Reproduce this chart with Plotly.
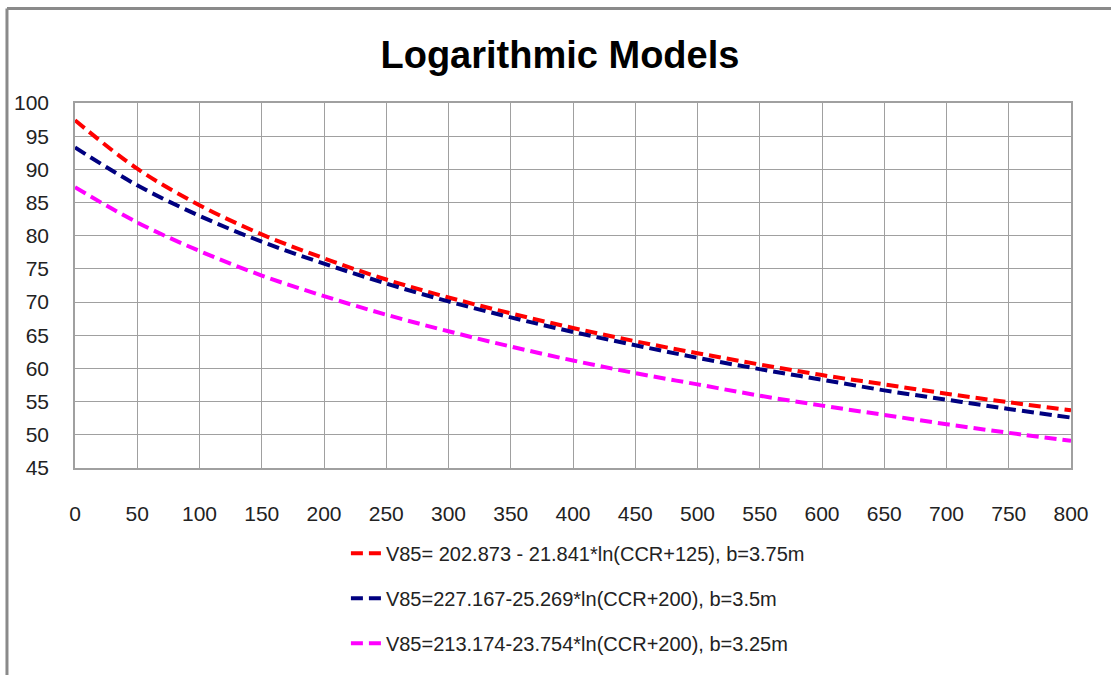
import plotly.graph_objects as go

# CCR values (x axis)
ccr = [0, 50, 100, 150, 200, 250, 300, 350, 400, 450, 500, 550, 600, 650, 700, 750, 800]

# V85 values
v85_b375 = [97.4, 90.1, 84.6, 80.2, 76.6, 73.4, 70.7, 68.3, 66.1, 64.1, 62.3, 60.6, 59.0, 57.6, 56.2, 54.9, 53.7]
v85_b350 = [93.3, 87.6, 83.0, 79.1, 75.8, 72.8, 70.1, 67.7, 65.5, 63.5, 61.6, 59.9, 58.3, 56.7, 55.3, 53.9, 52.6]
v85_b325 = [87.3, 82.0, 77.7, 74.0, 70.9, 68.1, 65.6, 63.3, 61.2, 59.3, 57.6, 55.9, 54.4, 53.0, 51.6, 50.3, 49.1]

names = [
    "V85= 202.873 - 21.841*ln(CCR+125), b=3.75m",
    "V85=227.167-25.269*ln(CCR+200), b=3.5m",
    "V85=213.174-23.754*ln(CCR+200), b=3.25m",
]
colors = ["#FF0000", "#000080", "#FF00FF"]
series = [v85_b375, v85_b350, v85_b325]

FONT = "'Liberation Sans', Arial, sans-serif"

fig = go.Figure()
for i, (nm, ys, c) in enumerate(zip(names, series, colors)):
    fig.add_trace(go.Scatter(
        x=ccr, y=ys, name=nm, mode="lines",
        line=dict(color=c, width=4, dash="12px,6px", shape="spline"),
        legendgroup=f"g{i}",
    ))

fig.update_layout(
    width=1111, height=675,
    margin=dict(l=75, r=40, t=103, b=197),
    paper_bgcolor="white", plot_bgcolor="white",
    font=dict(family=FONT, color="#222222", size=20),
    title=dict(text="<b>Logarithmic Models</b>", x=0.504, xref="container", xanchor="center",
               y=1 - 55 / 675, yref="container", yanchor="middle",
               font=dict(family=FONT, size=38, color="black")),
    showlegend=True,
    legend=dict(x=0.272, xanchor="left", y=-0.18, yanchor="top",
                orientation="v", tracegroupgap=16,
                font=dict(family=FONT, size=20, color="#222222"),
                bgcolor="rgba(0,0,0,0)"),
    shapes=[
        dict(type="line", xref="paper", yref="paper", x0=-0.0683, x1=-0.0683, y0=1.2587, y1=-0.6,
             line=dict(color="#8a8a8a", width=3)),
        dict(type="line", xref="paper", yref="paper", x0=-0.0683, x1=1.1, y0=1.2587, y1=1.2587,
             line=dict(color="#8a8a8a", width=3)),
    ],
)

fig.update_xaxes(range=[0, 800], dtick=50, tick0=0, showgrid=True, gridcolor="#a0a0a0", gridwidth=1.3,
                 showline=True, linecolor="#a0a0a0", linewidth=1.5, mirror=True, zeroline=False,
                 ticks="", ticklabelstandoff=26, tickfont=dict(size=21, family=FONT, color="#222222"))
fig.update_yaxes(range=[45, 100], dtick=5, tick0=45, showgrid=True, gridcolor="#a0a0a0", gridwidth=1.3,
                 showline=True, linecolor="#a0a0a0", linewidth=1.5, mirror=True, zeroline=False,
                 ticks="", ticklabelstandoff=20, tickfont=dict(size=21, family=FONT, color="#222222"))

fig.write_html("out.html")
